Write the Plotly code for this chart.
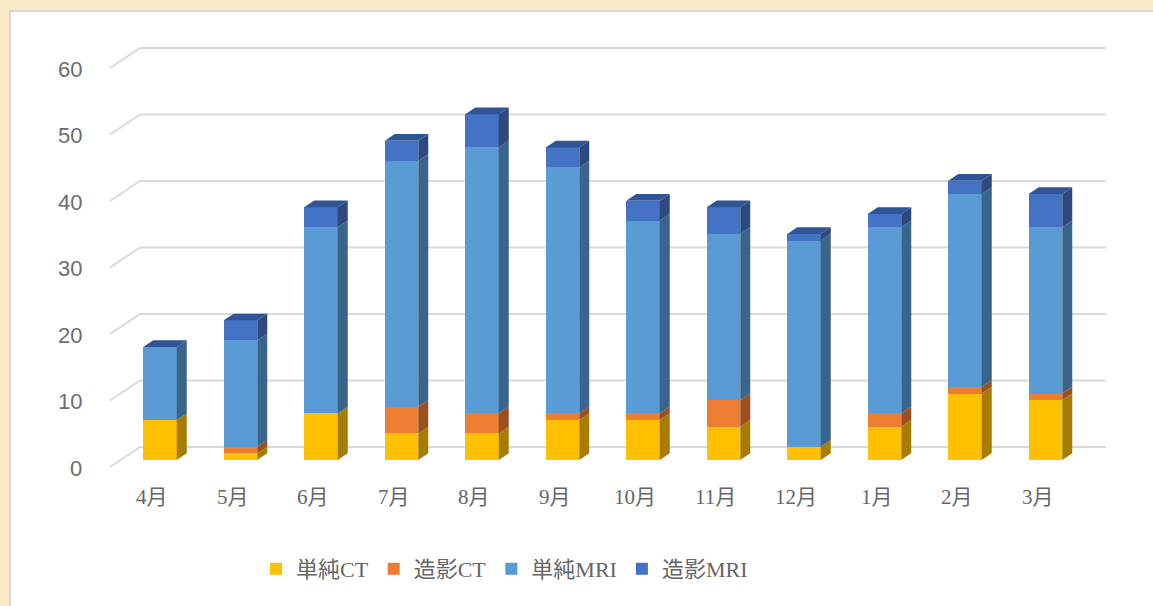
import plotly.graph_objects as go

# ---------------- data ----------------
months = ["4月", "5月", "6月", "7月", "8月", "9月", "10月", "11月", "12月", "1月", "2月", "3月"]
series_names = ["単純CT", "造影CT", "単純MRI", "造影MRI"]
plain_ct = [6, 1, 7, 4, 4, 6, 6, 5, 2, 5, 10, 9]
contrast_ct = [0, 1, 0, 4, 3, 1, 1, 4, 0, 2, 1, 1]
plain_mri = [11, 16, 28, 37, 40, 37, 29, 25, 31, 28, 29, 25]
contrast_mri = [0, 3, 3, 3, 5, 3, 3, 4, 1, 2, 2, 5]
y_ticks = [0, 10, 20, 30, 40, 50, 60]

series_values = [plain_ct, contrast_ct, plain_mri, contrast_mri]

# ---------------- styling ----------------
W, H = 1153, 606
X0_PX, X_STEP = 160.0, 80.5        # pixel of first category centre, px per category
Y0_PX, Y_STEP = 460.0, 6.65        # pixel of value 0 (bar front), px per unit

front_colors = ["#FFC000", "#ED7D31", "#5B9BD5", "#4472C4"]
side_colors = ["#A67D00", "#9C5020", "#3A6489", "#2C4A80"]
top_color = "#2F5597"

BAR_W = 33.5 / X_STEP
DX = 10.0 / X_STEP
DY = 6.7 / Y_STEP


def px2x(px):
    return (px - X0_PX) / X_STEP


def px2y(py):
    return (Y0_PX - py) / Y_STEP


fig = go.Figure()

# front faces (stacked bars)
idx = list(range(len(months)))
for name, vals, col in zip(series_names, series_values, front_colors):
    fig.add_trace(go.Bar(
        x=idx, y=vals, name=name, width=BAR_W,
        marker=dict(color=col, line=dict(width=0)),
        hoverinfo="skip",
    ))

# side faces
cum = [0] * len(months)
for name, vals, col in zip(series_names, series_values, side_colors):
    xs, ys = [], []
    for i, v in enumerate(vals):
        b, t = cum[i], cum[i] + v
        if v > 0:
            xr = i + BAR_W / 2
            xs += [xr, xr + DX, xr + DX, xr, xr, None]
            ys += [b, b + DY, t + DY, t, b, None]
        cum[i] = t
    fig.add_trace(go.Scatter(x=xs, y=ys, mode="lines", fill="toself",
                             fillcolor=col, line=dict(width=0, color=col),
                             showlegend=False, hoverinfo="skip"))

# top caps
xs, ys = [], []
for i, t in enumerate(cum):
    xl, xr = i - BAR_W / 2, i + BAR_W / 2
    xs += [xl, xl + DX, xr + DX, xr, xl, None]
    ys += [t, t + DY, t + DY, t, t, None]
fig.add_trace(go.Scatter(x=xs, y=ys, mode="lines", fill="toself",
                         fillcolor=top_color, line=dict(width=0, color=top_color),
                         showlegend=False, hoverinfo="skip"))

shapes = []
# white panel with grey border
shapes.append(dict(type="rect", xref="paper", yref="paper",
                   x0=10 / W, x1=1.05, y0=-0.05, y1=1 - 11 / H,
                   fillcolor="white", line=dict(color="#D6D6D6", width=2),
                   layer="below"))
# back wall gridlines + diagonal floor lines
back_off = (Y0_PX - 447.0) / Y_STEP
front_off = (Y0_PX - 467.0) / Y_STEP
for v in y_ticks:
    shapes.append(dict(type="line", xref="x", yref="y",
                       x0=px2x(140), x1=px2x(1106), y0=v + back_off, y1=v + back_off,
                       line=dict(color="#D9D9D9", width=2), layer="below"))
    shapes.append(dict(type="line", xref="x", yref="y",
                       x0=px2x(110), x1=px2x(140), y0=v + front_off, y1=v + back_off,
                       line=dict(color="#D9D9D9", width=2), layer="below"))

annotations = []
for v in y_ticks:
    annotations.append(dict(x=px2x(84), y=v + front_off - 0.2, xref="x", yref="y",
                            text=str(v), showarrow=False, xanchor="right", yanchor="middle",
                            font=dict(family="Liberation Sans, Arial", size=22, color="#6E6E6E")))
for i, m in enumerate(months):
    annotations.append(dict(x=i - 8 / X_STEP, y=px2y(497), xref="x", yref="y",
                            text=m, showarrow=False, xanchor="center", yanchor="middle",
                            font=dict(family="Liberation Serif, Noto Sans CJK JP", size=21,
                                      color="#666666")))

fig.update_layout(
    width=W, height=H,
    margin=dict(l=0, r=0, t=0, b=0),
    paper_bgcolor="#FAE9C8",
    plot_bgcolor="rgba(0,0,0,0)",
    barmode="stack",
    bargap=0,
    showlegend=True,
    legend=dict(orientation="h", x=256 / W, xanchor="left", y=1 - 548 / H, yanchor="top",
                font=dict(family="Liberation Serif, Noto Sans CJK JP", size=22, color="#666666"),
                bgcolor="rgba(0,0,0,0)", itemsizing="constant", traceorder="normal"),
    xaxis=dict(range=[px2x(0), px2x(W)], visible=False, fixedrange=True),
    yaxis=dict(range=[px2y(H), px2y(0)], visible=False, fixedrange=True),
    shapes=shapes,
    annotations=annotations,
)

fig.write_html("out.html", config={"displayModeBar": False},
               post_script="document.body.style.margin='0';")
